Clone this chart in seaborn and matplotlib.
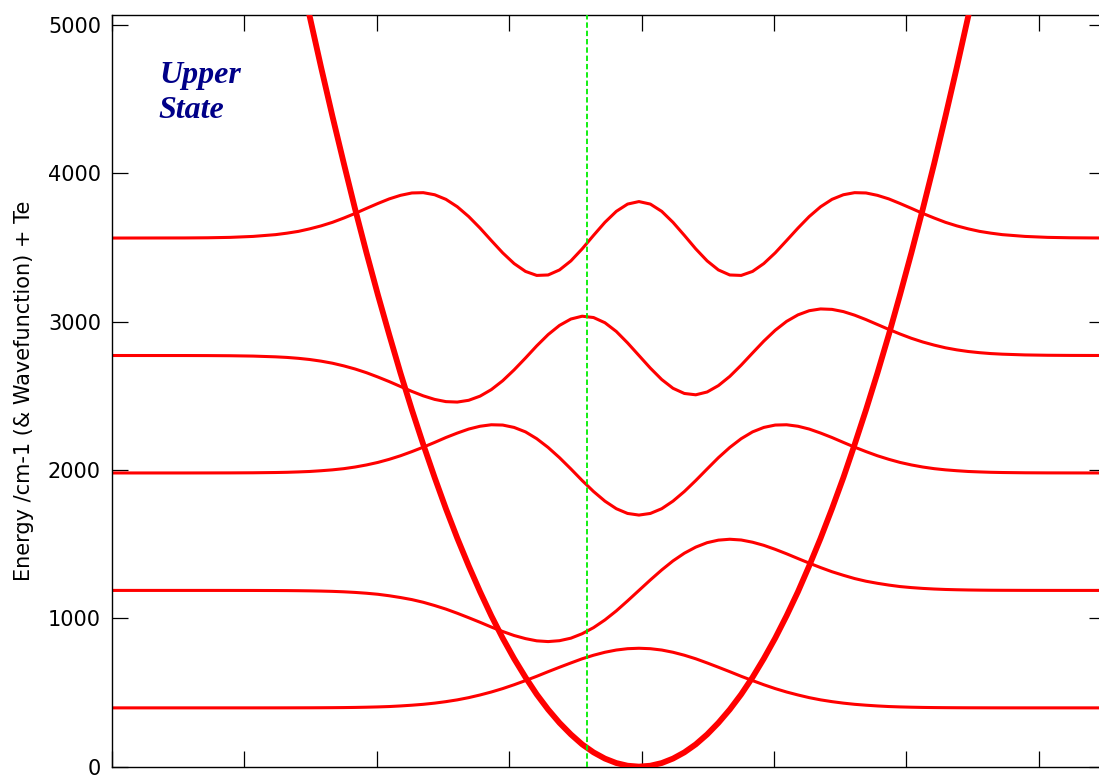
import numpy as np
import pandas as pd
import seaborn as sns
import matplotlib.pyplot as plt

# vibrational levels (cm-1) of the upper state
levels = [396, 1188, 1980, 2772, 3564]

# sample positions along the internuclear distance
wave_x = [0.600,
          0.6550, 0.6722, 0.6893, 0.7065, 0.7236, 0.7322, 0.7408, 0.7493, 0.7579, 0.7665,
          0.7751, 0.7836, 0.7922, 0.8008, 0.8094, 0.8179, 0.8265, 0.8351, 0.8437, 0.8522,
          0.8608, 0.8694, 0.8780, 0.8865, 0.8951, 0.9037, 0.9123, 0.9208, 0.9294, 0.9380,
          0.9466, 0.9551, 0.9637, 0.9723, 0.9809, 0.9894,
          0.9980,
          1.0066, 1.0152, 1.0237, 1.0323, 1.0409, 1.0495, 1.0580, 1.0666, 1.0752, 1.0838,
          1.0923, 1.1009, 1.1095, 1.1181, 1.1266, 1.1352, 1.1438, 1.1524, 1.1609, 1.1695,
          1.1781, 1.1867, 1.1952, 1.2038, 1.2124, 1.2210, 1.2295, 1.2381, 1.2467, 1.2553,
          1.2638, 1.2724, 1.2896, 1.3067, 1.3239, 1.3410,
          1.360]

# wavefunction offsets (cm-1) drawn on top of each level
psi0 = [0,
        0, 0, 0, 0, 0.1, 0.22, 0.4, 0.56, 0.9, 1.35, 2, 3, 4.5, 6.4, 9, 13, 18, 24, 32, 42,
        54, 69, 87, 107, 130, 156, 184, 213, 244, 274, 303, 331, 355, 375, 390, 399,
        402,
        399, 390, 375, 355, 331, 303, 274, 244, 213, 184, 156, 130, 107, 87, 69, 54, 42,
        32, 24, 18, 13, 9, 6.4, 4.5, 3, 2, 1.35, 0.9, 0.56, 0.4, 0.22, 0.1, 0, 0, 0, 0,
        0]
psi1 = [0,
        0, 0, -0.1, -0.3, -0.8, -1.2, -1.9, -2.9, -4.4, -6.4, -9.4, -13.5, -19, -26, -36,
        -48, -62, -80, -102, -126, -154, -184, -215, -247, -277, -304, -325, -340, -345,
        -339, -322, -292, -251, -199, -138, -70.5,
        0,
        70.5, 138, 199, 251, 292, 322, 339, 345, 340, 325, 304, 277, 247, 215, 184, 154,
        126, 102, 80, 62, 48, 36, 26, 19, 13.5, 9.4, 6.4, 4.4, 2.9, 1.9, 1.2, 0.8, 0.3,
        0.1, 0, 0,
        0]
psi2 = [0,
        0, 0.2, 0.5, 1.2, 3, 4.5, 7, 10, 15, 21, 29, 40, 54, 71, 92, 116, 144, 174, 206,
        239, 269, 296, 315, 325, 323, 307, 277, 231, 172, 103, 27, -51, -125, -190, -241,
        -273,
        -284,
        -273, -241, -190, -125, -51, 27, 103, 172, 231, 277, 307, 323, 325, 315, 296, 269,
        239, 206, 174, 144, 116, 92, 71, 54, 40, 29, 21, 15, 10, 7, 4.5, 3, 1.2, 0.5, 0.2,
        0,
        0]
psi3 = [0,
        -0.2, -0.6, -1.6, -3.9, -9, -13, -19, -27, -38, -52, -70, -91, -116, -145, -176,
        -209, -242, -272, -296, -311, -314, -302, -274, -230, -170, -97, -17, 65, 141, 203,
        246, 265, 256, 221, 162, 85,
        0,
        -85, -162, -221, -256, -265, -246, -203, -141, -65, 17, 97, 170, 230, 274, 302,
        314, 311, 296, 272, 242, 209, 176, 145, 116, 91, 70, 52, 38, 27, 19, 13, 9, 3.9,
        1.6, 0.6, 0.2,
        0]
psi4 = [0,
        0.7, 1.8, 4.6, 11, 23, 33, 45, 62, 82, 106, 135, 166, 200, 233, 264, 288, 304, 306,
        292, 261, 211, 145, 67, -17, -100, -172, -225, -252, -249, -215, -154, -73, 18, 106,
        180, 229,
        246,
        229, 180, 106, 18, -73, -154, -215, -249, -252, -225, -172, -100, -17, 67, 145, 211,
        261, 292, 306, 304, 288, 264, 233, 200, 166, 135, 106, 82, 62, 45, 33, 23, 11, 4.6,
        1.8, 0.7,
        0]
waves = [psi0, psi1, psi2, psi3, psi4]

# potential energy curve
pot_x = [0.7408, 0.7493, 0.7579, 0.7665, 0.7751, 0.7836, 0.7922, 0.8008, 0.8094, 0.8179,
         0.8265, 0.8351, 0.8437, 0.8522, 0.8608, 0.8694, 0.8780, 0.8865, 0.8951, 0.9037,
         0.9123, 0.9208, 0.9294, 0.9380, 0.9466, 0.9551, 0.9637, 0.9723, 0.9809, 0.9894,
         0.9980,
         1.0066, 1.0152, 1.0237, 1.0323, 1.0409, 1.0495, 1.0580, 1.0666, 1.0752, 1.0838,
         1.0923, 1.1009, 1.1095, 1.1181, 1.1266, 1.1352, 1.1438, 1.1524, 1.1609, 1.1695,
         1.1781, 1.1867, 1.1952, 1.2038, 1.2124, 1.2210, 1.2295, 1.2381, 1.2467, 1.2553]
pot_e = [5414, 5059, 4716, 4385, 4067, 3760, 3465, 3182, 2912, 2653, 2406, 2172, 1949,
         1739, 1540, 1354, 1179, 1017, 866, 728, 602, 487, 385, 295, 217, 150, 96, 54, 24, 6,
         0,
         6, 24, 54, 96, 150, 217, 295, 385, 487, 602, 728, 866, 1017, 1179, 1354, 1540, 1739,
         1949, 2172, 2406, 2653, 2912, 3182, 3465, 3760, 4067, 4385, 4716, 5059, 5414]

r_e = 0.959  # dashed marker position

sns.set_theme(style="ticks")
plt.rcParams['font.family'] = ['DejaVu Sans']

fig = plt.figure(figsize=(10.99, 7.78), dpi=100)
ax = fig.add_axes([112 / 1099, 11.4 / 778, 993 / 1099, 751.6 / 778])

rows = []
for v, (lev, psi) in enumerate(zip(levels, waves)):
    for x, p in zip(wave_x, psi):
        rows.append({"r": x, "E": lev + p, "v": v})
df = pd.DataFrame(rows)

for v in range(len(levels)):
    sub = df[df["v"] == v]
    sns.lineplot(data=sub, x="r", y="E", sort=False, estimator=None,
                 color="#ff0000", lw=2.2, ax=ax, zorder=2)

pot = pd.DataFrame({"r": pot_x, "E": pot_e})
sns.lineplot(data=pot, x="r", y="E", sort=False, estimator=None,
             color="#ff0000", lw=4.2, ax=ax, zorder=3)

ax.axvline(r_e, color="#00ee00", lw=1.3, ls=(0, (3, 1.6)), zorder=4)

ax.set_xlim(0.6, 1.35)
ax.set_ylim(0, 5068)
ax.set_xticks(np.arange(0.6, 1.31, 0.1))
ax.set_yticks(np.arange(0, 5001, 1000))
ax.tick_params(direction="in", length=11.5, width=0.9, top=True, right=True,
               labelbottom=False, labelsize=15, pad=8, colors="black")
for s in ax.spines.values():
    s.set_linewidth(1.0)
    s.set_color("black")

ax.set_xlabel("")
ax.set_ylabel("Energy /cm-1 (& Wavefunction) + Te", fontsize=15, labelpad=10,
              color="black")

ax.text(0.048, 0.9095, "Upper", transform=ax.transAxes, fontsize=23,
        family="Liberation Serif", weight="bold", style="italic", color="#000088",
        va="baseline", ha="left")
ax.text(0.047, 0.863, "State", transform=ax.transAxes, fontsize=23,
        family="Liberation Serif", weight="bold", style="italic", color="#000088",
        va="baseline", ha="left")

fig.savefig("out.png", dpi=100)
